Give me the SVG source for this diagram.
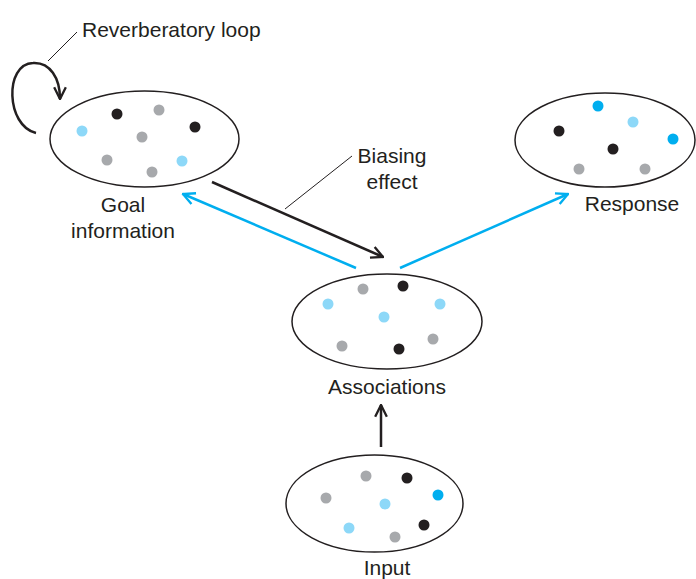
<svg xmlns="http://www.w3.org/2000/svg" width="696" height="579" viewBox="0 0 696 579">
<defs>
<style>
.node ellipse{fill:#fff;stroke:#231f20;stroke-width:1.5}
.k{fill:#231f20}.g{fill:#a7a9ac}.lb{fill:#8dd8f8}.b{fill:#00aeef}
text{font-family:"Liberation Sans",Arial,sans-serif;font-size:21px;fill:#231f20}
.lead{stroke:#231f20;stroke-width:1;fill:none}
.ak{stroke:#231f20;stroke-width:2.5;fill:none}
.ab{stroke:#00aeef;stroke-width:2.5;fill:none}
</style>
<marker id="mk" viewBox="0 0 12 12" refX="11" refY="6" markerWidth="14" markerHeight="14" markerUnits="userSpaceOnUse" orient="auto"><path d="M1,1 L11,6 L1,11" fill="none" stroke="#231f20" stroke-width="2"/></marker>
<marker id="mb" viewBox="0 0 12 12" refX="11" refY="6" markerWidth="14" markerHeight="14" markerUnits="userSpaceOnUse" orient="auto"><path d="M1,1 L11,6 L1,11" fill="none" stroke="#00aeef" stroke-width="2"/></marker>
</defs>
<rect width="696" height="579" fill="#fff"/>
<g id="connectors">
<path class="ak" d="M212,182 L383,257" marker-end="url(#mk)"/>
<path class="ab" d="M356,268 L183,194" marker-end="url(#mb)"/>
<path class="ab" d="M400,268 L568,194" marker-end="url(#mb)"/>
<path class="ak" d="M381,447 L381,405" marker-end="url(#mk)"/>
<path class="ak" d="M36,133 C6,126 4,64 33,63 C50,62 60,78 60,99" marker-end="url(#mk)"/>
<path class="lead" d="M48,61 L77,32"/>
<path class="lead" d="M285,209 L352,156"/>
</g>
<g id="reverberatory-label"><text x="82" y="37">Reverberatory loop</text></g>
<g id="biasing-label"><text x="392" y="163" text-anchor="middle">Biasing</text><text x="392" y="189" text-anchor="middle">effect</text></g>
<g id="goal" class="node">
<ellipse cx="144.5" cy="139" rx="94.5" ry="48"/>
<circle class="k" cx="117" cy="114" r="5.5"/><circle class="g" cx="159" cy="110" r="5.5"/><circle class="lb" cx="82" cy="131" r="5.5"/><circle class="k" cx="195" cy="127" r="5.5"/><circle class="g" cx="142" cy="137" r="5.5"/><circle class="g" cx="107" cy="160" r="5.5"/><circle class="lb" cx="182" cy="161" r="5.5"/><circle class="g" cx="152" cy="172" r="5.5"/>
<text x="123" y="212" text-anchor="middle">Goal</text><text x="123" y="238" text-anchor="middle">information</text>
</g>
<g id="response" class="node">
<ellipse cx="605" cy="140" rx="90" ry="47"/>
<circle class="b" cx="598" cy="106" r="5.5"/><circle class="lb" cx="633" cy="122" r="5.5"/><circle class="k" cx="559" cy="131" r="5.5"/><circle class="b" cx="673" cy="139" r="5.5"/><circle class="k" cx="613" cy="149" r="5.5"/><circle class="g" cx="579" cy="169" r="5.5"/><circle class="g" cx="645" cy="169" r="5.5"/>
<text x="632" y="211" text-anchor="middle">Response</text>
</g>
<g id="associations" class="node">
<ellipse cx="387" cy="321.5" rx="95" ry="47.5"/>
<circle class="g" cx="363" cy="289" r="5.5"/><circle class="k" cx="403" cy="286" r="5.5"/><circle class="lb" cx="328" cy="304" r="5.5"/><circle class="lb" cx="440" cy="304" r="5.5"/><circle class="lb" cx="384" cy="317" r="5.5"/><circle class="g" cx="342" cy="346" r="5.5"/><circle class="g" cx="433" cy="339" r="5.5"/><circle class="k" cx="399" cy="349" r="5.5"/>
<text x="387" y="394" text-anchor="middle">Associations</text>
</g>
<g id="input" class="node">
<ellipse cx="374.5" cy="503.5" rx="88.5" ry="48.5"/>
<circle class="g" cx="366" cy="476" r="5.5"/><circle class="k" cx="407" cy="478" r="5.5"/><circle class="g" cx="326" cy="498" r="5.5"/><circle class="b" cx="438" cy="495" r="5.5"/><circle class="lb" cx="385" cy="504" r="5.5"/><circle class="lb" cx="349" cy="528" r="5.5"/><circle class="k" cx="424" cy="525" r="5.5"/><circle class="g" cx="395" cy="537" r="5.5"/>
<text x="387" y="575" text-anchor="middle">Input</text>
</g>
</svg>
